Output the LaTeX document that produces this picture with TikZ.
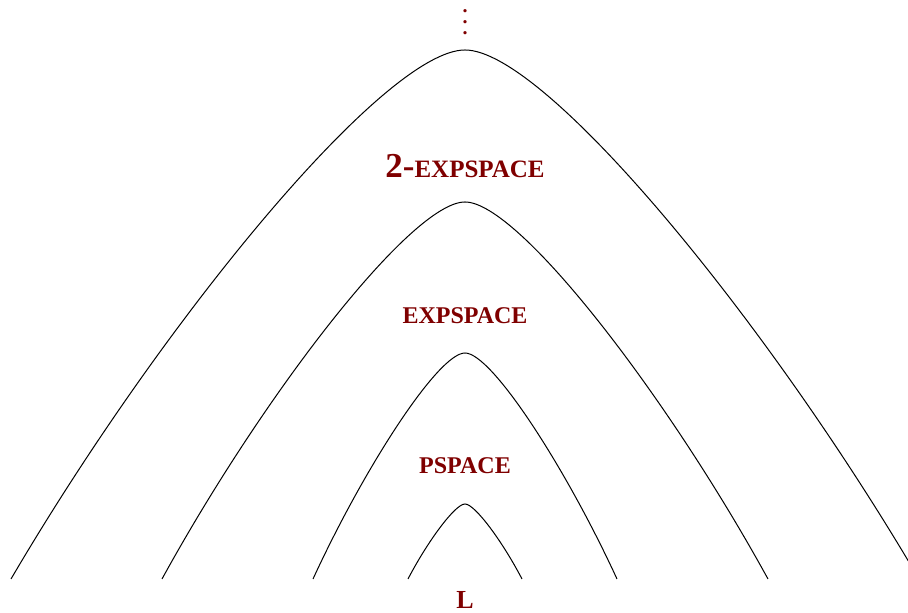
\documentclass[tikz,border=0pt]{standalone}
\usepackage{fontspec}
\setmainfont{Liberation Serif}
\definecolor{cls}{HTML}{7F0000}
\tikzset{
  hill/.style={draw=black,line width=0.5pt},
  cname/.style={font=\bfseries\fontsize{12}{14}\selectfont,text=cls,inner sep=0pt},
}

\begin{document}
\begin{tikzpicture}[x=0.5pt,y=0.5pt]
\clip (-465,-34) rectangle (443,579);
% nested hills, outer to inner
\foreach \w/\h in {454/529,303/377,152/226,57/75}{
  \draw[hill] (-\w,0) .. controls ({-0.665*\w},{0.49*\h}) and ({-0.176*\w},\h) .. (0,\h)
    .. controls ({0.176*\w},\h) and ({0.665*\w},{0.49*\h}) .. (\w,0);}
% class names
\node[cname,font=\bfseries\fontsize{10}{5.6}\selectfont,align=center] (more) at (0,557) {.\\.\\.};
\node[cname] (twoexp) at (0,413) {{\fontsize{17.5}{20}\selectfont 2-}{\fontsize{12.5}{14}\selectfont EXPSPACE}};
\node[cname] (exp) at (0,263) {EXPSPACE};
\node[cname] (psp) at (0,113) {PSPACE};
\node[cname,font=\bfseries\fontsize{13}{15}\selectfont] (lang) at (0,-21) {L};
\end{tikzpicture}
\end{document}
